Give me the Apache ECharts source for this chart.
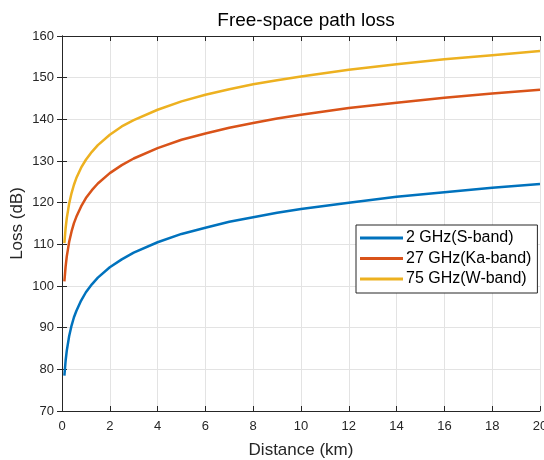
<!DOCTYPE html>
<html>
<head>
<meta charset="utf-8">
<script src="https://cdn.jsdelivr.net/npm/echarts@6/dist/echarts.min.js"></script>
<style>
  html, body { margin: 0; padding: 0; background: #fff; }
  #main { width: 544px; height: 460px; }
</style>
</head>
<body>
<div id="main"></div>
<script>
// distance (km) and loss (dB)
var distance = [0.1, 0.15, 0.2, 0.3, 0.4, 0.5, 0.6, 0.8, 1, 1.25, 1.5, 2, 2.5, 3, 4, 5, 6, 7, 8, 9, 10, 12, 14, 16, 18, 20];
var loss2 = [78.5, 82.0, 84.5, 88.0, 90.5, 92.5, 94.0, 96.5, 98.5, 100.4, 102.0, 104.5, 106.4, 108.0, 110.5, 112.5, 114.0, 115.4, 116.5, 117.6, 118.5, 120.0, 121.4, 122.5, 123.6, 124.5];
var loss27 = [101.1, 104.6, 107.1, 110.6, 113.1, 115.1, 116.6, 119.1, 121.1, 123.0, 124.6, 127.1, 129.0, 130.6, 133.1, 135.1, 136.6, 138.0, 139.1, 140.2, 141.1, 142.7, 144.0, 145.2, 146.2, 147.1];
var loss75 = [110.3, 113.8, 116.3, 119.8, 122.3, 124.3, 125.9, 128.4, 130.3, 132.2, 133.8, 136.3, 138.3, 139.8, 142.3, 144.3, 145.9, 147.2, 148.4, 149.4, 150.3, 151.9, 153.2, 154.4, 155.4, 156.4];
var names = ['2 GHz(S-band)', '27 GHz(Ka-band)', '75 GHz(W-band)'];
var colors = ['#0072BD', '#D95319', '#EDB120'];

function pairs(ys) {
    return distance.map(function (d, i) { return [d, ys[i]]; });
}

var myChart = echarts.init(document.getElementById('main'));

var font = 'Liberation Sans, Arial, sans-serif';
var axisText = { color: '#262626', fontSize: 13, fontFamily: font };
var axisLine = { show: true, lineStyle: { color: '#262626', width: 1 } };
var tickIn = { show: true, inside: true, length: 5, lineStyle: { color: '#262626' } };

var option = {
    animation: false,
    color: colors,
    title: {
        text: 'Free-space path loss',
        left: 301,
        textAlign: 'center',
        top: 6,
        textStyle: { fontSize: 19, fontWeight: 'normal', color: '#000', fontFamily: font }
    },
    grid: { left: 62, right: 4, top: 36, bottom: 49, containLabel: false, outerBoundsMode: 'none' },
    legend: {
        data: names,
        orient: 'vertical',
        left: 356,
        top: 225,
        padding: [5, 6, 6, 4],
        itemGap: 4.5,
        itemWidth: 43,
        itemHeight: 3,
        icon: 'rect',
        backgroundColor: '#fff',
        borderColor: '#262626',
        borderWidth: 1,
        borderRadius: 0,
        textStyle: { color: '#000', fontSize: 16, padding: [0, 0, 0, -2], fontFamily: font }
    },
    xAxis: [{
        type: 'value',
        min: 0, max: 20, interval: 2,
        name: 'Distance (km)',
        nameLocation: 'middle',
        nameGap: 31,
        nameTextStyle: { color: '#262626', fontSize: 17, fontFamily: font },
        axisLine: axisLine,
        axisTick: tickIn,
        axisLabel: Object.assign({ margin: 9 }, axisText),
        splitLine: { show: true, lineStyle: { color: '#e3e3e3' } }
    }, {
        type: 'value',
        position: 'top',
        min: 0, max: 20, interval: 2,
        axisLine: axisLine,
        axisTick: tickIn,
        axisLabel: { show: false },
        splitLine: { show: false }
    }],
    yAxis: [{
        type: 'value',
        min: 70, max: 160, interval: 10,
        name: 'Loss (dB)',
        nameLocation: 'middle',
        nameGap: 36,
        nameMoveOverlap: false,
        nameTextStyle: { color: '#262626', fontSize: 17, fontFamily: font },
        axisLine: axisLine,
        axisTick: tickIn,
        axisLabel: Object.assign({ margin: 8 }, axisText),
        splitLine: { show: true, lineStyle: { color: '#e3e3e3' } }
    }, {
        type: 'value',
        position: 'right',
        min: 70, max: 160, interval: 10,
        axisLine: axisLine,
        axisTick: tickIn,
        axisLabel: { show: false },
        splitLine: { show: false }
    }],
    series: [loss2, loss27, loss75].map(function (ys, i) {
        return {
            name: names[i],
            type: 'line',
            data: pairs(ys),
            showSymbol: false,
            smooth: false,
            lineStyle: { width: 2.5, color: colors[i] },
            itemStyle: { color: colors[i] }
        };
    })
};

myChart.setOption(option);
</script>
</body>
</html>
